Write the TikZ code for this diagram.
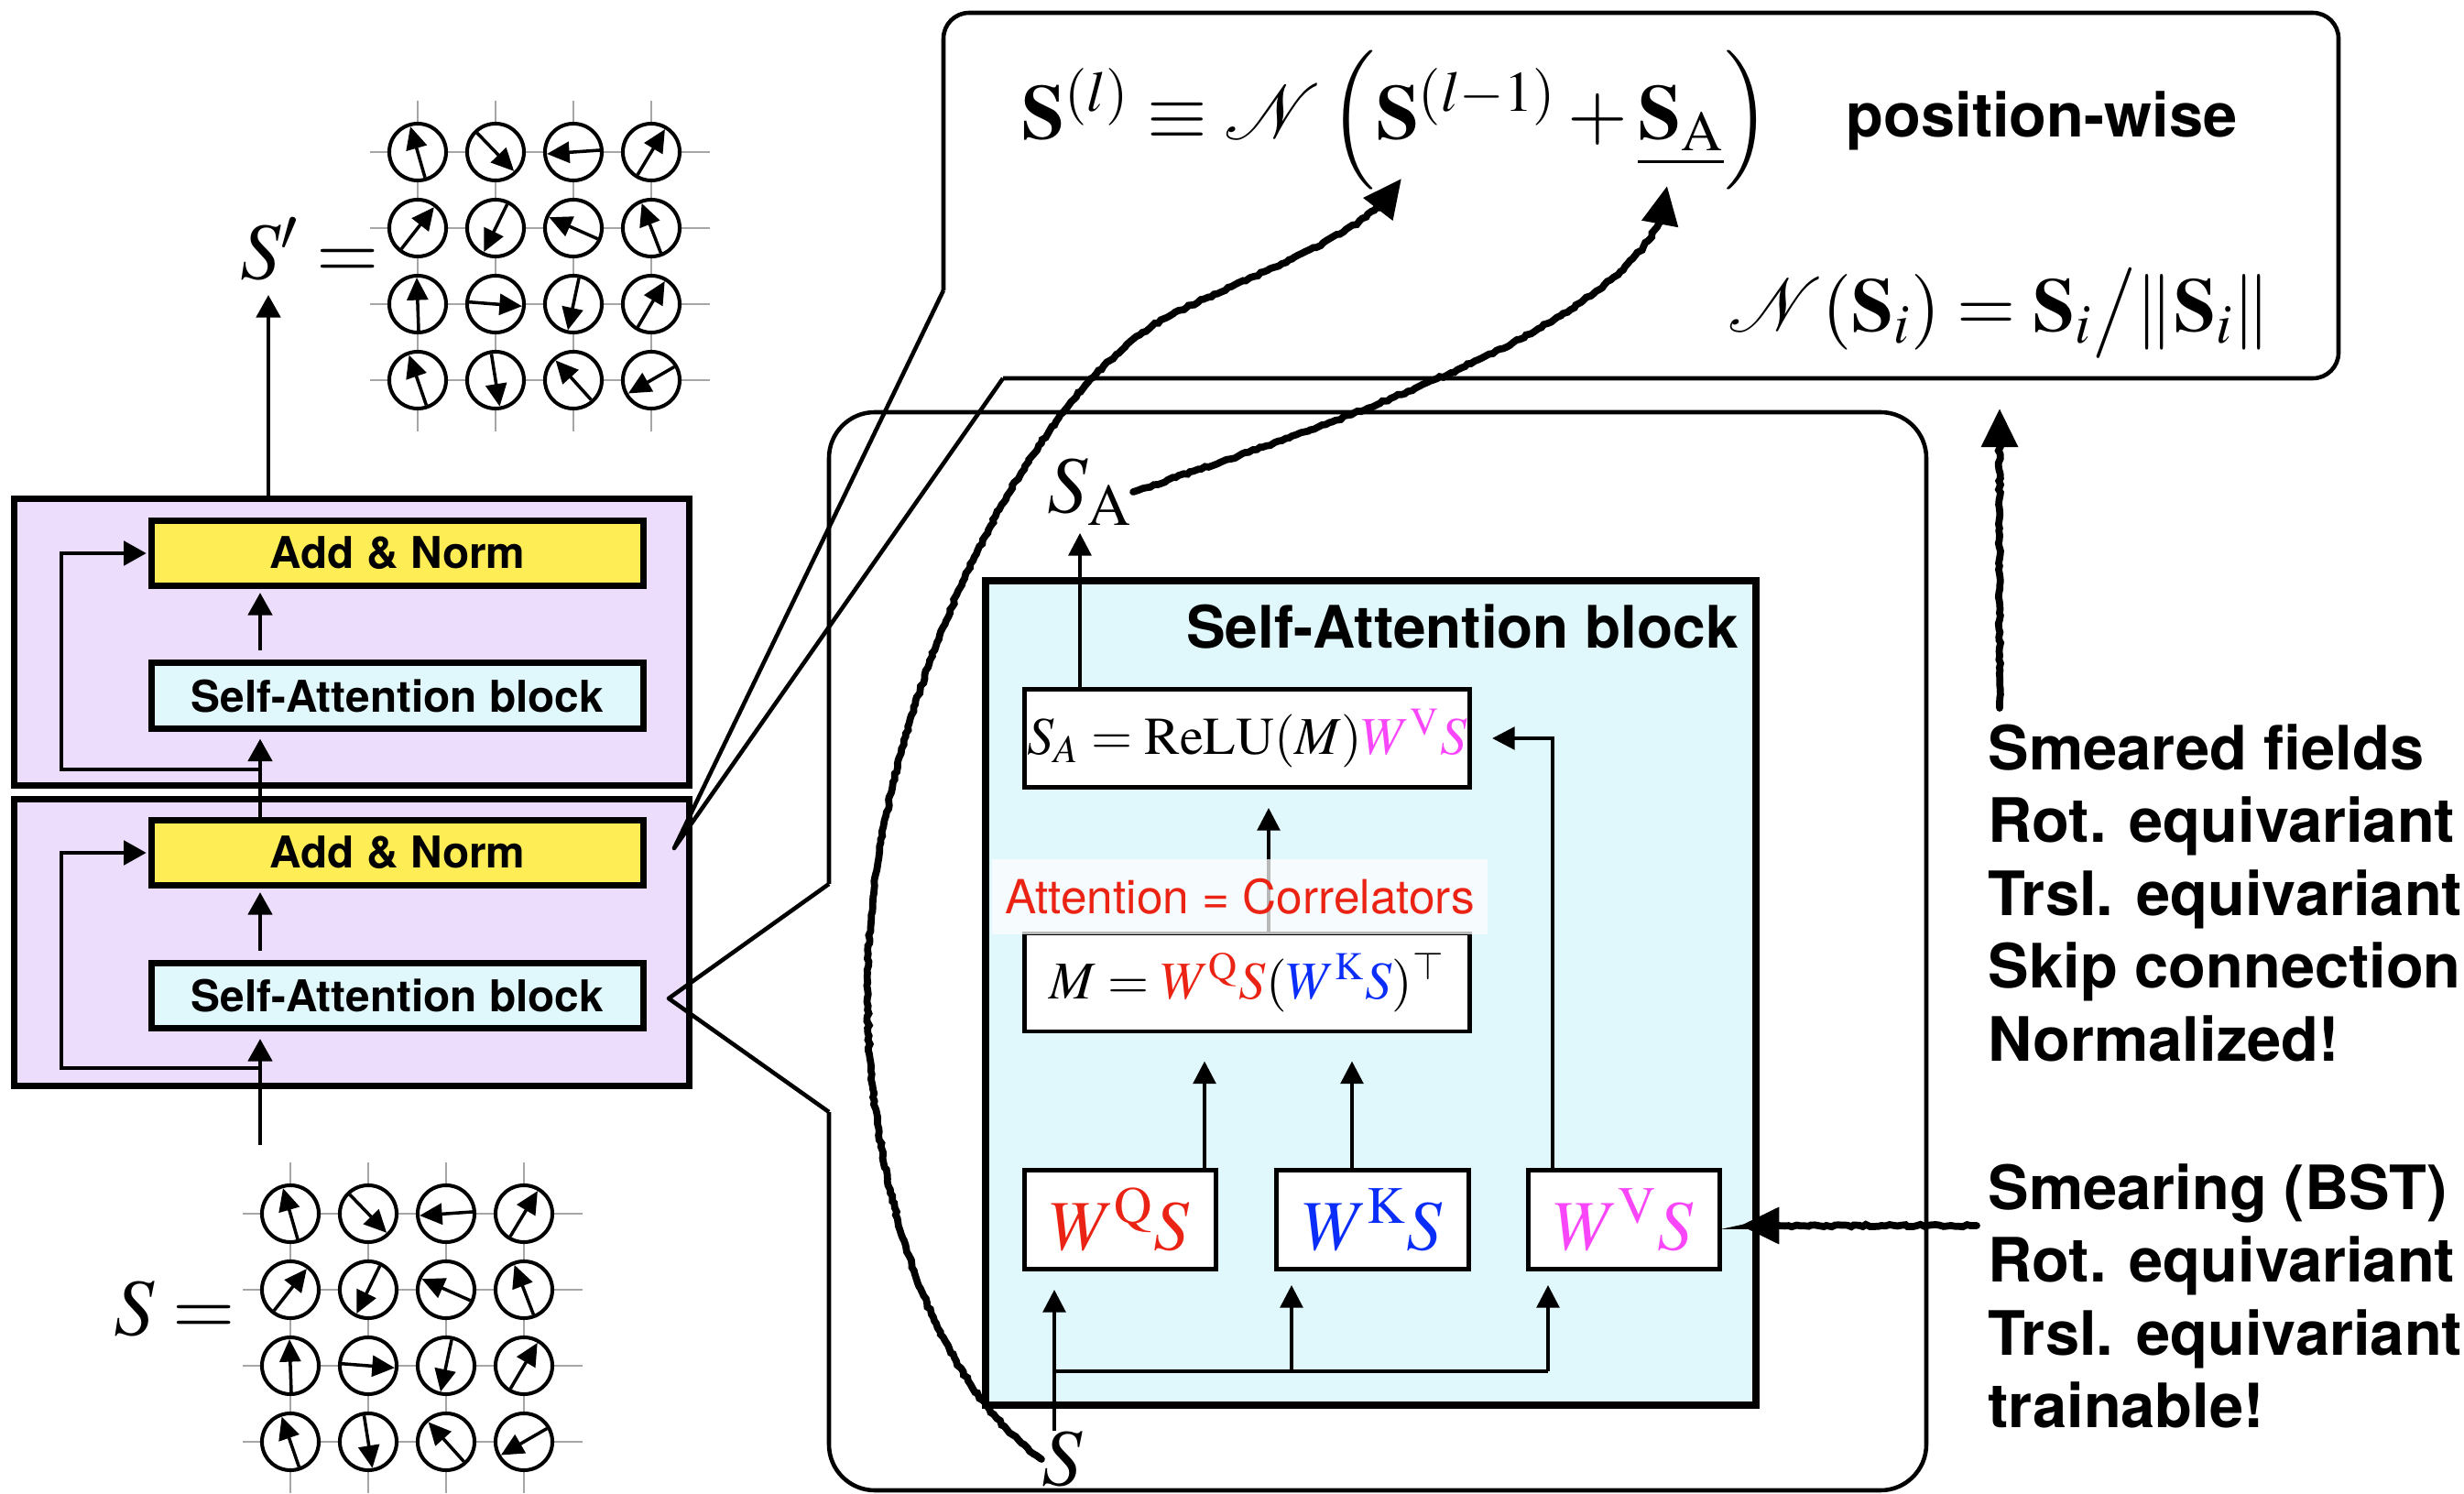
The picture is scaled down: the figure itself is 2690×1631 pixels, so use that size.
\documentclass[tikz,border=0pt]{standalone}
\usepackage{amsmath}
\usepackage{mathptmx}
\usepackage[no-math]{fontspec}
\setmainfont{Liberation Serif}
\setsansfont{TeX Gyre Heros}
\usetikzlibrary{arrows.meta, decorations.pathmorphing}

\definecolor{lavender}{RGB}{237,221,253}
\definecolor{normyellow}{RGB}{255,237,85}
\definecolor{attcyan}{RGB}{224,247,252}
\definecolor{qred}{RGB}{235,35,20}
\definecolor{kblue}{RGB}{10,45,250}
\definecolor{vmag}{RGB}{250,70,250}

% 4x4 lattice of spins: #1 name prefix, #2/#3 centre of the top-left site
\newcommand{\spinlattice}[3]{%
  \begin{scope}[shift={(#2,#3)}]
    \foreach \i in {0,...,3} {
      \draw[gridline] (\i*85,-56) -- (\i*85,305);
      \draw[gridline] (-52,\i*83) -- (319,\i*83);
    }
    \foreach \a [count=\k from 0] in {106,-46,184,59,52,244,156,111,92,-4.5,258,59.5,109,-81,132,210} {
      \pgfmathtruncatemacro{\row}{\k/4}
      \pgfmathtruncatemacro{\col}{mod(\k,4)}
      \node[site] (#1\row\col) at (\col*85,\row*83) {};
      \draw[spin] (#1\row\col.center) ++(\a+180:0.29cm) -- ++(\a:0.58cm);
    }
  \end{scope}}

\begin{document}
\begin{tikzpicture}[
    x=0.01cm, y=-0.01cm,
    stackbg/.style={draw, line width=2pt, fill=lavender, minimum width=7.37cm, minimum height=3.13cm},
    stackbox/.style={draw, line width=2pt, minimum width=5.37cm, minimum height=0.71cm, inner sep=0pt, font=\sffamily\bfseries\fontsize{13.6}{16}\selectfont},
    addnorm/.style={stackbox, fill=normyellow},
    sablock/.style={stackbox, fill=attcyan},
    arr/.style={line width=1.4pt, -{Triangle[length=7pt,width=7.4pt]}},
    wire/.style={line width=1.1pt},
    arrs/.style={wire, -{Triangle[length=7pt,width=7pt]}},
    mathbox/.style={draw, line width=1.4pt, fill=white, minimum width=4.86cm, minimum height=1.07cm, inner sep=0pt, font=\fontsize{16.5}{20}\selectfont},
    wbox/.style={draw, line width=1.4pt, fill=white, minimum width=2.09cm, minimum height=1.08cm, inner sep=0pt, font=\fontsize{22}{26}\selectfont},
    mathlbl/.style={inner sep=0pt, font=\fontsize{25}{30}\selectfont},
    bubble/.style={line width=1.3pt, line join=round},
    site/.style={circle, draw, fill=white, line width=1.15pt, minimum size=0.62cm, inner sep=0pt, outer sep=0pt},
    spin/.style={line width=1pt, -{Triangle[length=7pt,width=6.5pt]}},
    gridline/.style={gray!70, line width=0.6pt},
    pencil/.style={line width=2.2pt, line cap=round, decorate, decoration={random steps, segment length=1.2pt, amplitude=0.35pt, pre length=2pt, post length=10pt}, -{Triangle[length=12pt,width=11pt]}},
    note/.style={anchor=north west, align=left, inner sep=0pt, font=\sffamily\bfseries\fontsize{19}{22.6}\selectfont}
  ]
  \useasboundingbox (0,0) rectangle (2690,1631);
  \pgfmathsetseed{3}

  % input and output spin configurations
  \spinlattice{out}{456}{166}
  \spinlattice{in}{317}{1325}
  \node[mathlbl, anchor=east] (Sp) at (415,272) {$S' =$};
  \node[mathlbl, anchor=east] (S0) at (258,1429) {$S =$};

  % stack of two transformer layers
  \node[stackbg] (layU) at (384,701) {};
  \node[stackbg] (layL) at (384,1029) {};
  \node[addnorm] (addU) at (434,604) {Add \& Norm};
  \node[sablock] (saU) at (434,759.5) {Self-Attention block};
  \node[addnorm] (addL) at (434,931) {Add \& Norm};
  \node[sablock] (saL) at (434,1087) {Self-Attention block};

  \coordinate (stem) at (284,0);
  \coordinate (skip) at (67,0);
  \coordinate (brU) at (284,840);
  \coordinate (brL) at (284,1166);
  \coordinate (inS) at (284,1250);
  \coordinate (outS) at (293,322);

  \draw[arr, shorten <=0.1cm, shorten >=0.04cm] (saU.north -| stem) -- (addU.south -| stem);
  \draw[arr, shorten <=0.1cm, shorten >=0.04cm] (saL.north -| stem) -- (addL.south -| stem);
  \draw[arr, shorten >=0.08cm] (addL.north -| stem) -- (saU.south -| stem);
  \draw[arr, shorten >=0.08cm] (inS) -- (saL.south -| stem);
  \draw[arr] (layU.north -| outS) -- (outS);
  \draw[arr, shorten >=0.02cm] (brU) -- (brU -| skip) |- (addU.west);
  \draw[arr, shorten >=0.02cm] (brL) -- (brL -| skip) |- (addL.west);

  % zoom-in bubbles
  \coordinate (eqtip) at (736,926);
  \coordinate (satip) at (730,1090);
  \draw[bubble, rounded corners=0.28cm] (1095,413) -- (2553,413) -- (2553,14) -- (1030,14) -- (1030,317);
  \draw[bubble] (1030,317) -- (eqtip) -- (1095,413);
  \draw[bubble, rounded corners=0.5cm] (905,1214) -- (905,1627) -- (2103,1627) -- (2103,450) -- (905,450) -- (905,965);
  \draw[bubble] (905,965) -- (satip) -- (905,1214);

  % update rule
  \node[anchor=base west, inner sep=0pt, font=\fontsize{24}{29}\selectfont] (eqS) at (1115,152)
    {$\mathbf S^{(l)} \equiv \mathcal N\,\Bigl( \mathbf S^{(l-1)} + \underline{\mathbf S_{\mathrm A}} \Bigr)$};
  \node[anchor=base west, inner sep=0pt, font=\sffamily\bfseries\fontsize{19}{22}\selectfont] (pw) at (2015,150) {position-wise};
  \node[anchor=base east, inner sep=0pt, font=\fontsize{23.5}{28}\selectfont] (eqN) at (2480,362)
    {$\mathcal N(\mathbf S_i) = \mathbf S_i \big/ \|\mathbf S_i\|$};
  \coordinate (tipL) at (1530,195);
  \coordinate (tipA) at (1820,203);

  % self-attention block
  \node[draw, line width=2.2pt, fill=attcyan, minimum width=8.41cm, minimum height=9cm] (att) at (1496.5,1084) {};
  \node[anchor=base east, inner sep=0pt, font=\sffamily\bfseries\fontsize{18.2}{21}\selectfont] (attTitle) at (1899,708) {Self-Attention block};
  \node[mathbox] (sabox) at (1361.5,806) {$S_A = \mathrm{ReLU}(M)\textcolor{vmag}{W^{\mathrm V}S}$};
  \node[mathbox] (mbox) at (1361.5,1072.5) {$M = \textcolor{qred}{W^{\mathrm Q}S}(\textcolor{kblue}{W^{\mathrm K}S})^{\top}$};
  \node[wbox] (wq) at (1223,1331.5) {$\textcolor{qred}{W^{\mathrm Q}S}$};
  \node[wbox] (wk) at (1498.5,1331.5) {$\textcolor{kblue}{W^{\mathrm K}S}$};
  \node[wbox] (wv) at (1773,1331.5) {$\textcolor{vmag}{W^{\mathrm V}S}$};
  \node[mathlbl] (SAlbl) at (1190,537) {$S_{\mathrm A}$};
  \node[mathlbl] (Sin) at (1160,1593) {$S$};

  \coordinate (qout) at (1315,1275);
  \coordinate (kout) at (1476,1275);
  \coordinate (vout) at (1695,1275);
  \coordinate (mout) at (1385,1017);
  \coordinate (saout) at (1179,750);
  \coordinate (qin) at (1151,1497);
  \coordinate (kin) at (1410,1497);
  \coordinate (vin) at (1690,1497);

  \draw[arrs, shorten >=0.3cm] (qout) -- (qout |- mbox.south);
  \draw[arrs, shorten >=0.3cm] (kout) -- (kout |- mbox.south);
  \draw[arrs, shorten >=0.22cm] (vout) |- (sabox.east);
  \draw[arrs, shorten >=0.2cm] (mout) -- (mout |- sabox.south);
  \draw[arrs, shorten >=0.08cm] (saout) -- (saout |- SAlbl.south);
  \draw[arrs, shorten >=0.2cm] (Sin.north -| qin) -- (qin |- wq.south);
  \draw[wire] (qin) -- (vin);
  \draw[arrs, shorten >=0.15cm] (kin) -- (kin |- wk.south);
  \draw[arrs, shorten >=0.15cm] (vin) -- (vin |- wv.south);
  \node[fill=white, fill opacity=0.72, text opacity=1, text=qred, minimum width=5.41cm, minimum height=0.82cm, inner sep=0pt,
    font=\sffamily\fontsize{14.6}{17}\selectfont] (corr) at (1353.5,979) {Attention = Correlators};

  % properties
  \node[note] (smeared) at (2170,790) {Smeared fields\\Rot. equivariant\\Trsl. equivariant\\Skip connection\\Normalized!};
  \node[note] (smearing) at (2170,1270) {Smearing (BST)\\Rot. equivariant\\Trsl. equivariant\\trainable!};
  \coordinate (smUp) at (2183,446);
  \coordinate (smIn) at (2158,1338);

  % hand-drawn arrows
  \draw[pencil] (Sin.west) .. controls (1020,1510) and (947,1300) .. (947,1080)
    .. controls (947,780) and (1120,425) .. (1280,343)
    .. controls (1378,295) and (1505,250) .. (tipL);
  \draw[pencil] (SAlbl.east) .. controls (1520,443) and (1822,330) .. (tipA);
  \draw[pencil] (smeared.north west) ++(13,-17) -- (smUp);
  \draw[pencil, shorten >=0.2cm] (smIn) -- (smIn -| wv.east);
\end{tikzpicture}
\end{document}
